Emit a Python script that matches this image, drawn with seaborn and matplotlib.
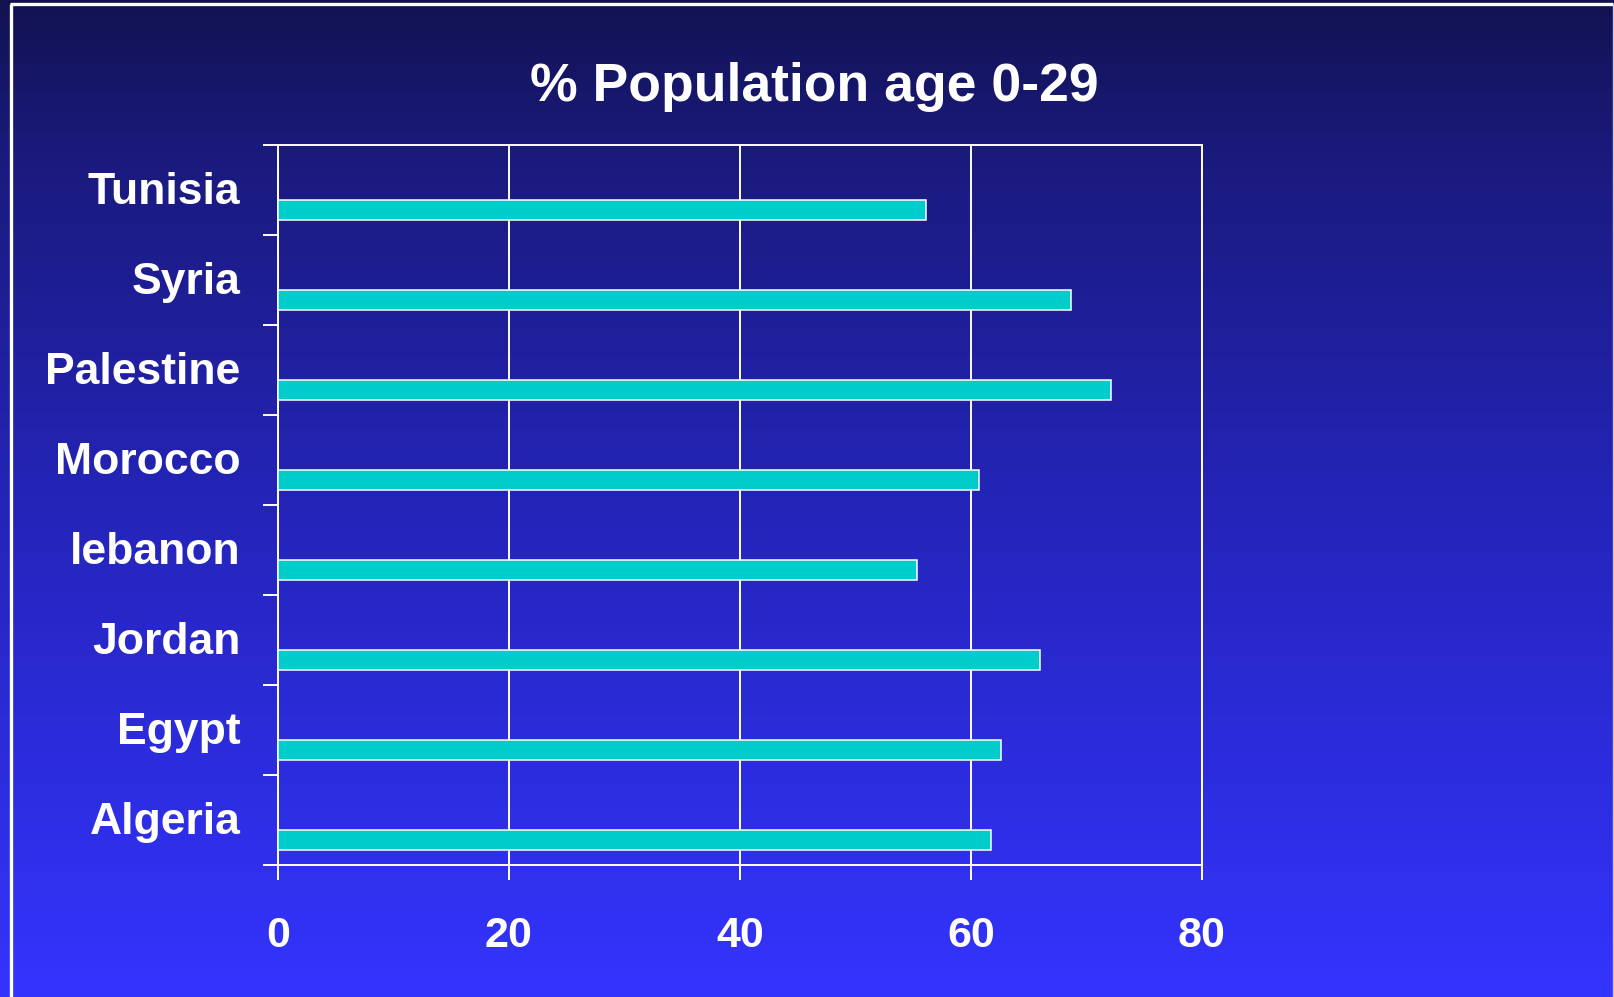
import numpy as np
import pandas as pd
import matplotlib
matplotlib.use("Agg")
import matplotlib.pyplot as plt
from matplotlib.colors import LinearSegmentedColormap
from matplotlib.transforms import ScaledTranslation
import seaborn as sns

# ----- donnees -----
pays = ["Tunisia", "Syria", "Palestine", "Morocco", "lebanon", "Jordan", "Egypt", "Algeria"]
pct_0_29 = [56.1, 68.7, 72.1, 60.7, 55.3, 66.0, 62.6, 61.7]
graduations = [0, 20, 40, 60, 80]

titre = "% Population age 0-29"

sns.set_theme(style="white")
plt.rcParams["font.family"] = ["Liberation Sans", "DejaVu Sans"]
plt.rcParams["font.weight"] = "bold"

BLANC = "white"
CYAN = "#00cccc"

fig = plt.figure(figsize=(16.15, 9.97), dpi=100)

# fond en degrade (bleu nuit en haut -> bleu vif en bas)
ax_fond = fig.add_axes([0, 0, 1, 1], zorder=-10)
degrade = LinearSegmentedColormap.from_list(
    "fond", [(0.0, "#121250"), (0.15, "#1a1a7c"), (0.5, "#2424b8"), (1.0, "#3434ff")])
ax_fond.imshow(np.linspace(0, 1, 256).reshape(-1, 1), aspect="auto", cmap=degrade,
               extent=[0, 1, 0, 1], origin="upper")
ax_fond.set_xlim(0, 1)
ax_fond.set_ylim(0, 1)
ax_fond.axis("off")
# cadre blanc (haut + gauche), style diapo
ax_fond.plot([0.0065, 0.9985], [0.9955, 0.9955], color=BLANC, lw=2.4, solid_capstyle="butt")
ax_fond.plot([0.0068, 0.0068], [0.0, 0.9955], color=BLANC, lw=2.4, solid_capstyle="butt")
ax_fond.plot([0.9985, 0.9985], [0.0, 0.9955], color="#c8c8ff", lw=1.0, solid_capstyle="butt")

# ----- barres horizontales -----
ax = fig.add_axes([0.172, 0.1324, 0.5723, 0.7222])
ax.set_facecolor("none")
df = pd.DataFrame({"pays": pays, "pct": pct_0_29})
sns.barplot(data=df, x="pct", y="pays", orient="h", order=pays, color=CYAN,
            saturation=1, width=0.22, edgecolor=BLANC, linewidth=1.1, ax=ax, zorder=3)
# barres decalees vers le bas de chaque bande (comme dans l'original)
for p in ax.patches:
    p.set_y(p.get_y() + 0.225)

ax.set_xlim(0, 80)
ax.set_ylim(len(pays) - 0.5, -0.5)
ax.set_xticks(graduations)
ax.set_xticklabels([str(g) for g in graduations])
ax.set_xlabel("")
ax.set_ylabel("")

# grille verticale blanche
ax.grid(axis="x", color=BLANC, lw=1.4, zorder=1)
ax.grid(axis="y", visible=False)
for s in ax.spines.values():
    s.set_visible(True)
    s.set_color(BLANC)
    s.set_linewidth(1.4)

# graduations y aux frontieres des categories
ax.set_yticks(np.arange(-0.5, len(pays)), minor=True)
ax.tick_params(axis="y", which="minor", left=True, length=11, width=1.4, color=BLANC,
               direction="out")
ax.tick_params(axis="y", which="major", left=True, length=0, pad=27, labelsize=32,
               labelcolor=BLANC)
ax.tick_params(axis="x", which="major", bottom=True, length=11, width=1.4, color=BLANC,
               direction="out", pad=26, labelsize=31, labelcolor=BLANC)
decalage = ScaledTranslation(0, -3 / 100, fig.dpi_scale_trans)  # ~3 px vers le bas
for lab in ax.get_yticklabels():
    lab.set_fontweight("bold")
    lab.set_verticalalignment("center")
    lab.set_transform(lab.get_transform() + decalage)
for lab in ax.get_xticklabels():
    lab.set_fontweight("bold")

fig.text(0.504, 0.913, titre, ha="center", va="center", color=BLANC,
         fontsize=38.5, fontweight="bold")

fig.savefig("out.png", dpi=100)
